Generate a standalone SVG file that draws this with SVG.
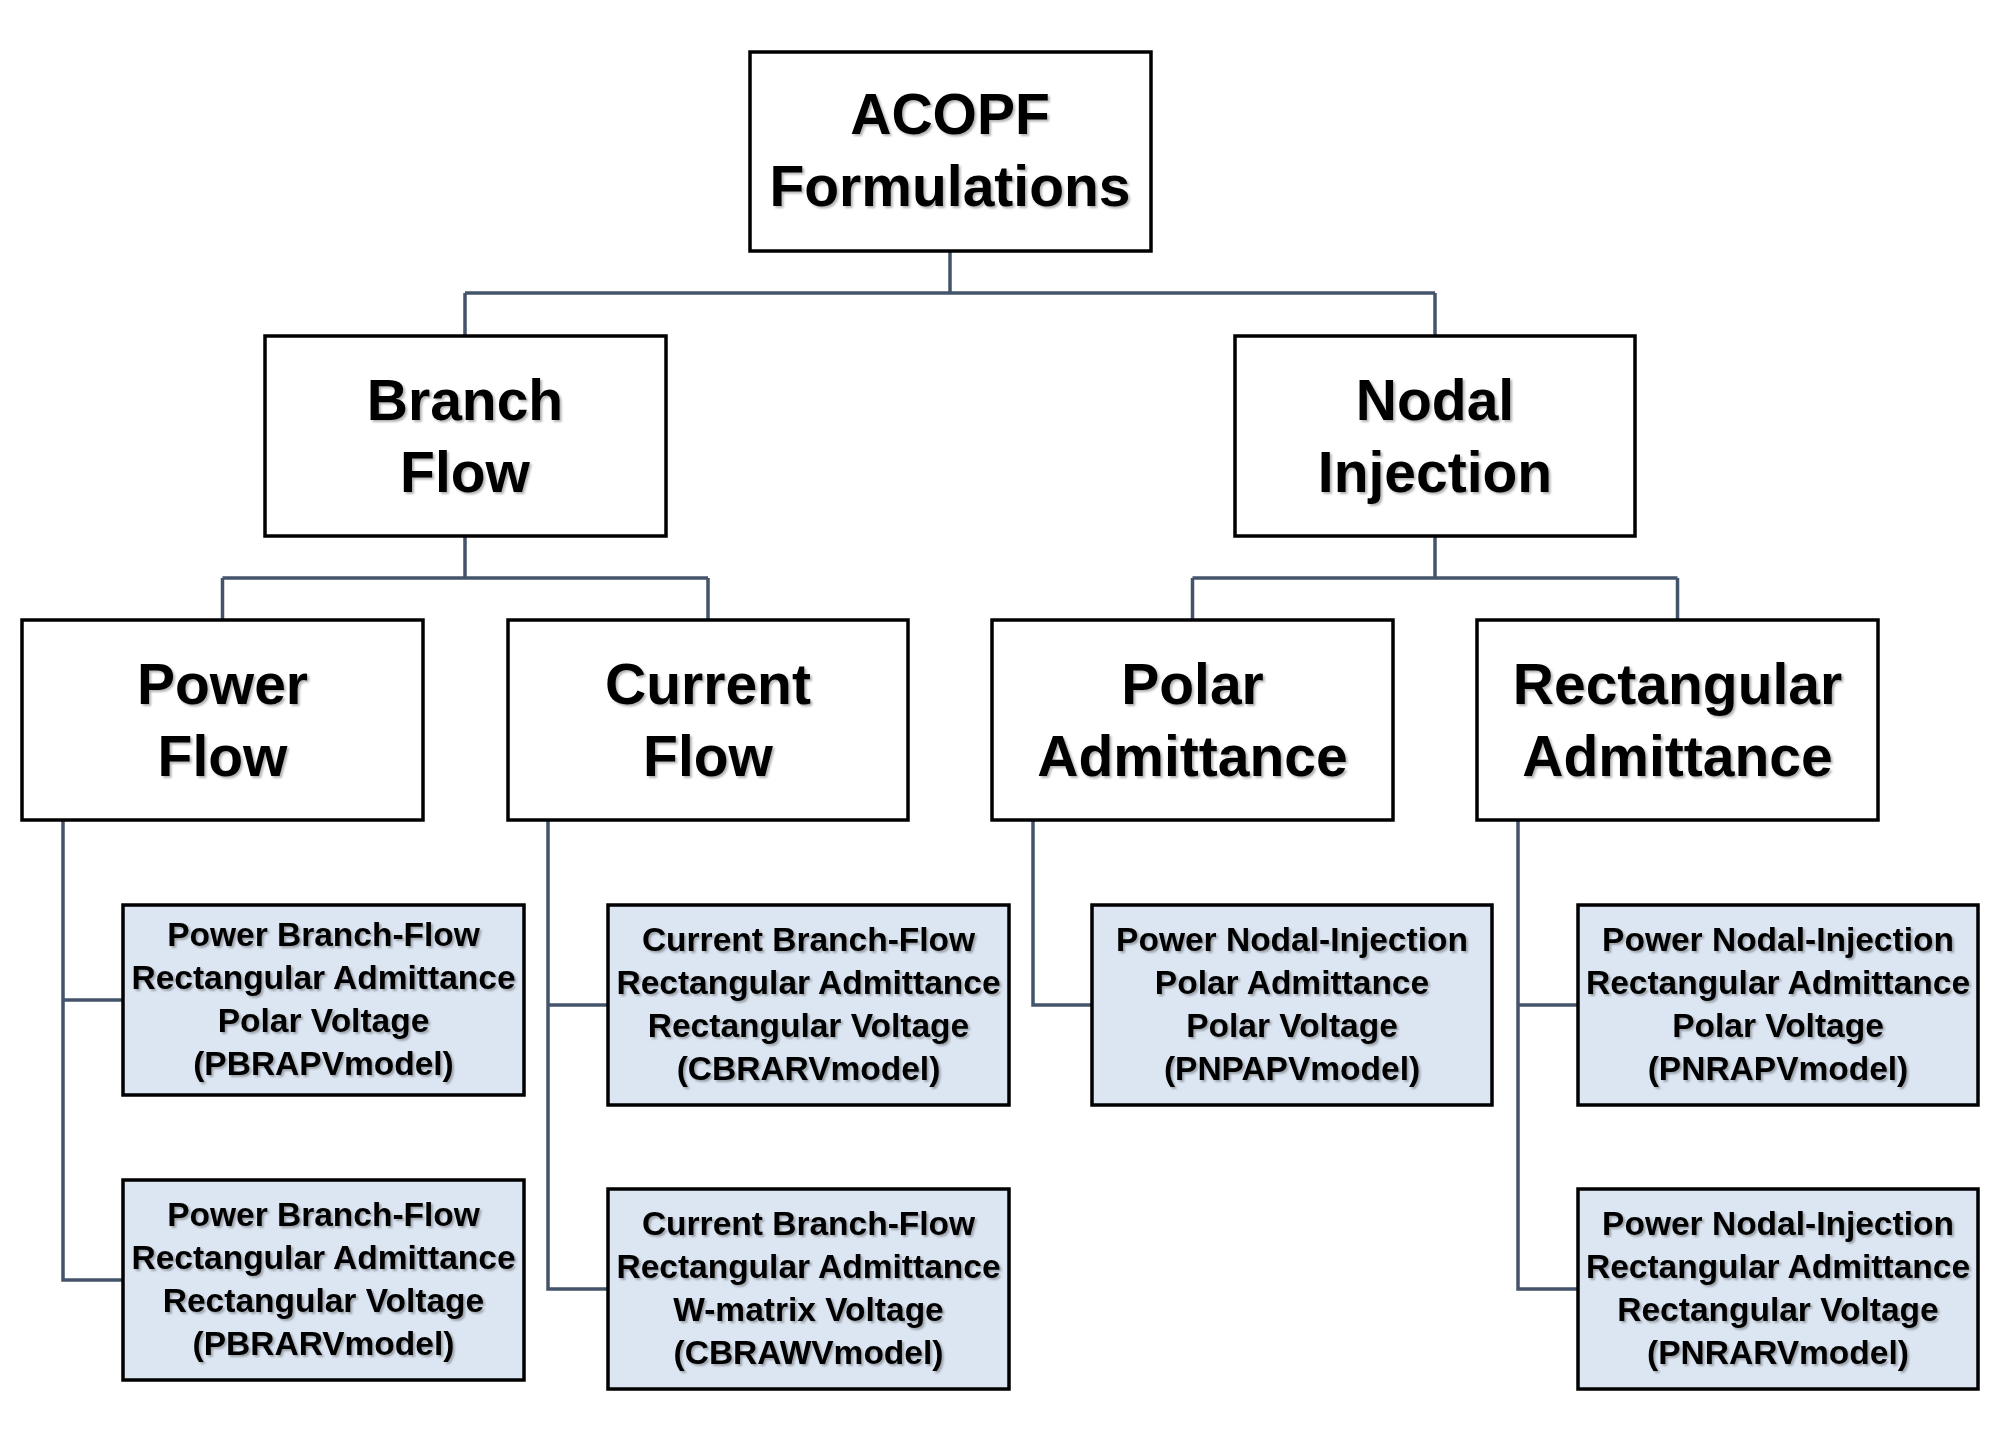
<svg xmlns="http://www.w3.org/2000/svg" width="2000" height="1432" viewBox="0 0 2000 1432">
  <style>
    .box { fill: #ffffff; stroke: #000000; stroke-width: 3.5; }
    .leaf { fill: #dce6f2; stroke: #000000; stroke-width: 3.5; }
    .big { font-family: "Liberation Sans", Arial, sans-serif; font-weight: bold; font-size: 57px; text-anchor: middle; fill: #000000; }
    .small { font-family: "Liberation Sans", Arial, sans-serif; font-weight: bold; font-size: 33.5px; text-anchor: middle; fill: #000000; }
    .conn { fill: none; stroke: #44546a; stroke-width: 3.5; }
  </style>
  <defs>
    <filter id="shadow" x="-10%" y="-10%" width="120%" height="130%">
      <feDropShadow dx="2" dy="2" stdDeviation="1.2" flood-color="#000000" flood-opacity="0.3"/>
    </filter>
  </defs>
  <rect width="2000" height="1432" fill="#ffffff"/>

  <g id="connectors">
    <path class="conn" d="M950,252 V293 M465,293 H1435 M465,293 V336 M1435,293 V336"/>
    <path class="conn" d="M465,536 V578 M222.5,578 H708 M222.5,578 V620 M708,578 V620"/>
    <path class="conn" d="M1435,536 V578 M1192.5,578 H1677.5 M1192.5,578 V620 M1677.5,578 V620"/>
    <path class="conn" d="M63,820 V1280 H122 M63,1000 H122"/>
    <path class="conn" d="M548,820 V1289 H607 M548,1005 H607"/>
    <path class="conn" d="M1033,820 V1005 H1092"/>
    <path class="conn" d="M1518,820 V1289 H1578 M1518,1005 H1578"/>
  </g>

  <g id="acopf">
    <rect class="box" x="750" y="52" width="401" height="199"/>
    <g filter="url(#shadow)">
      <text class="big" x="950" y="134">ACOPF</text>
      <text class="big" x="950" y="206">Formulations</text>
    </g>
  </g>

  <g id="branch-flow">
    <rect class="box" x="265" y="336" width="401" height="200"/>
    <g filter="url(#shadow)">
      <text class="big" x="465" y="420">Branch</text>
      <text class="big" x="465" y="492">Flow</text>
    </g>
  </g>

  <g id="nodal-injection">
    <rect class="box" x="1235" y="336" width="400" height="200"/>
    <g filter="url(#shadow)">
      <text class="big" x="1435" y="420">Nodal</text>
      <text class="big" x="1435" y="492">Injection</text>
    </g>
  </g>

  <g id="power-flow">
    <rect class="box" x="22" y="620" width="401" height="200"/>
    <g filter="url(#shadow)">
      <text class="big" x="222.5" y="704">Power</text>
      <text class="big" x="222.5" y="776">Flow</text>
    </g>
  </g>

  <g id="current-flow">
    <rect class="box" x="508" y="620" width="400" height="200"/>
    <g filter="url(#shadow)">
      <text class="big" x="708" y="704">Current</text>
      <text class="big" x="708" y="776">Flow</text>
    </g>
  </g>

  <g id="polar-admittance">
    <rect class="box" x="992" y="620" width="401" height="200"/>
    <g filter="url(#shadow)">
      <text class="big" x="1192.5" y="704">Polar</text>
      <text class="big" x="1192.5" y="776">Admittance</text>
    </g>
  </g>

  <g id="rectangular-admittance">
    <rect class="box" x="1477" y="620" width="401" height="200"/>
    <g filter="url(#shadow)">
      <text class="big" x="1677.5" y="704">Rectangular</text>
      <text class="big" x="1677.5" y="776">Admittance</text>
    </g>
  </g>

  <g id="pbrapv">
    <rect class="leaf" x="123" y="905" width="401" height="190"/>
    <g filter="url(#shadow)">
      <text class="small" x="323.5" y="946">Power Branch-Flow</text>
      <text class="small" x="323.5" y="989">Rectangular Admittance</text>
      <text class="small" x="323.5" y="1032">Polar Voltage</text>
      <text class="small" x="323.5" y="1075">(PBRAPVmodel)</text>
    </g>
  </g>

  <g id="pbrarv">
    <rect class="leaf" x="123" y="1180" width="401" height="200"/>
    <g filter="url(#shadow)">
      <text class="small" x="323.5" y="1226">Power Branch-Flow</text>
      <text class="small" x="323.5" y="1269">Rectangular Admittance</text>
      <text class="small" x="323.5" y="1312">Rectangular Voltage</text>
      <text class="small" x="323.5" y="1355">(PBRARVmodel)</text>
    </g>
  </g>

  <g id="cbrarv">
    <rect class="leaf" x="608" y="905" width="401" height="200"/>
    <g filter="url(#shadow)">
      <text class="small" x="808.5" y="951">Current Branch-Flow</text>
      <text class="small" x="808.5" y="994">Rectangular Admittance</text>
      <text class="small" x="808.5" y="1037">Rectangular Voltage</text>
      <text class="small" x="808.5" y="1080">(CBRARVmodel)</text>
    </g>
  </g>

  <g id="cbrawv">
    <rect class="leaf" x="608" y="1189" width="401" height="200"/>
    <g filter="url(#shadow)">
      <text class="small" x="808.5" y="1235">Current Branch-Flow</text>
      <text class="small" x="808.5" y="1278">Rectangular Admittance</text>
      <text class="small" x="808.5" y="1321">W-matrix Voltage</text>
      <text class="small" x="808.5" y="1364">(CBRAWVmodel)</text>
    </g>
  </g>

  <g id="pnpapv">
    <rect class="leaf" x="1092" y="905" width="400" height="200"/>
    <g filter="url(#shadow)">
      <text class="small" x="1292" y="951">Power Nodal-Injection</text>
      <text class="small" x="1292" y="994">Polar Admittance</text>
      <text class="small" x="1292" y="1037">Polar Voltage</text>
      <text class="small" x="1292" y="1080">(PNPAPVmodel)</text>
    </g>
  </g>

  <g id="pnrapv">
    <rect class="leaf" x="1578" y="905" width="400" height="200"/>
    <g filter="url(#shadow)">
      <text class="small" x="1778" y="951">Power Nodal-Injection</text>
      <text class="small" x="1778" y="994">Rectangular Admittance</text>
      <text class="small" x="1778" y="1037">Polar Voltage</text>
      <text class="small" x="1778" y="1080">(PNRAPVmodel)</text>
    </g>
  </g>

  <g id="pnrarv">
    <rect class="leaf" x="1578" y="1189" width="400" height="200"/>
    <g filter="url(#shadow)">
      <text class="small" x="1778" y="1235">Power Nodal-Injection</text>
      <text class="small" x="1778" y="1278">Rectangular Admittance</text>
      <text class="small" x="1778" y="1321">Rectangular Voltage</text>
      <text class="small" x="1778" y="1364">(PNRARVmodel)</text>
    </g>
  </g>
</svg>
